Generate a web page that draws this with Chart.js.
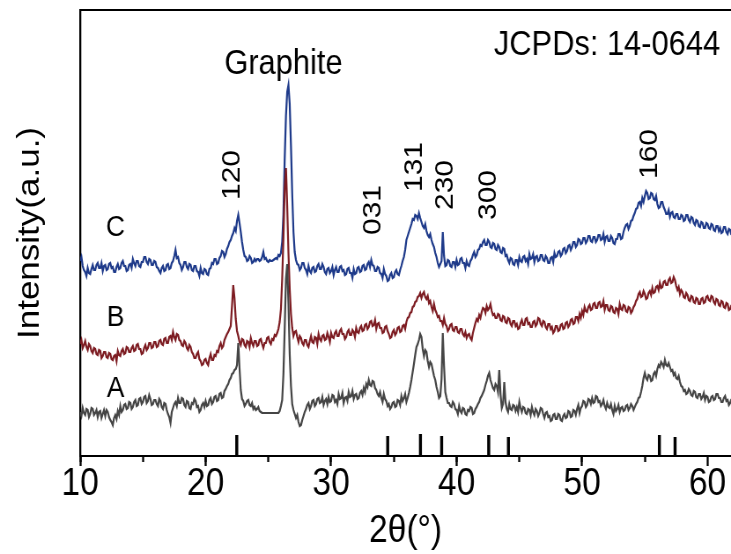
<!DOCTYPE html>
<html>
<head>
<meta charset="utf-8">
<script src="https://cdn.jsdelivr.net/npm/chart.js@4.4.1/dist/chart.umd.min.js"></script>
<style>
  html, body { margin: 0; padding: 0; overflow: hidden; background: #fff; }
  /* the original figure is squeezed sideways, so the chart is drawn wider and scaled down in x */
  #wrap { width: 830px; height: 554px; transform: scaleX(0.88072); transform-origin: 0 0; }
</style>
</head>
<body>
<div id="wrap"><canvas id="xrd" width="830" height="554"></canvas></div>
<script>
// 2theta grid: 10 to 62 deg, 0.1 deg steps
const thetaStart = 10;
const thetaStep = 0.1;

// sample A (bottom, grey), one row per degree
const seriesA = [
  52,48,56,51,49,55,54,47,50,56,
  55,49,51,54,47,52,53,46,50,54,
  48,54,52,47,44,42,39,46,49,45,
  53,49,58,52,54,59,60,55,56,62,
  61,55,57,62,64,58,59,65,66,60,
  62,67,68,61,63,69,65,59,60,64,
  64,60,58,65,63,57,55,61,60,54,
  50,47,41,52,56,60,62,58,66,61,
  61,66,65,59,57,63,62,56,55,61,
  60,65,63,57,58,52,54,59,61,57,
  63,58,59,64,66,60,62,67,68,63,
  64,70,71,66,67,73,75,78,80,84,
  86,90,91,94,95,99,121,96,74,65,
  63,58,60,63,64,59,58,61,55,57,
  54,55,57,53,52,51,51,51,51,51,
  51,51,51,51,51,51,51,51,51,53,
  58,64,90,135,185,200,160,110,78,60,
  54,50,46,49,42,38,39,44,48,52,
  55,59,61,55,58,63,64,58,60,65,
  66,61,62,67,59,63,65,60,67,62,
  63,69,68,62,64,60,70,65,66,71,
  61,66,67,63,72,67,68,73,65,69,
  70,65,66,71,73,69,76,72,80,77,
  84,79,78,83,82,76,74,70,68,72,
  66,62,70,65,63,58,60,55,57,61,
  62,57,58,64,63,59,68,63,66,70,
  62,66,71,77,84,92,100,109,117,120,
  124,130,127,115,108,114,112,103,97,102,
  100,94,88,84,77,72,66,68,85,131,
  98,72,66,61,61,58,57,62,60,55,
  54,50,58,53,51,56,55,50,49,54,
  53,57,56,50,51,55,57,60,62,66,
  68,71,74,79,83,88,91,84,80,76,
  74,80,78,72,94,70,56,60,82,62,
  55,52,60,55,54,59,58,53,57,52,
  62,56,52,57,56,51,50,55,54,49,
  57,52,49,55,53,48,51,56,55,50,
  46,51,52,47,48,43,44,49,50,45,
  45,50,49,44,43,48,50,46,47,53,
  52,47,48,54,53,49,55,59,51,56,
  58,63,62,57,59,65,64,60,66,61,
  62,68,67,62,63,58,60,64,58,55,
  61,57,56,60,54,50,58,53,55,59,
  52,56,57,53,54,58,59,54,56,60,
  58,54,57,60,62,66,67,72,78,86,
  91,86,84,89,88,83,84,90,92,88,
  95,99,97,102,100,97,104,99,98,101,
  97,93,94,89,91,86,85,88,82,78,
  77,73,74,70,71,75,73,69,68,73,
  72,67,66,70,70,65,67,71,64,68,
  67,62,63,67,68,64,65,70,70,66,
  66,62,62,66,68,63,64,59,61,65,
  63
];

// sample B (middle, dark red)
const seriesB = [
  120,124,116,119,123,117,114,120,118,113,
  111,116,115,110,109,114,113,106,108,112,
  112,107,106,111,110,105,104,108,109,103,
  113,109,108,113,115,110,111,117,116,112,
  112,116,118,113,114,119,120,115,115,110,
  111,116,119,114,116,121,121,116,117,122,
  122,117,118,123,124,120,119,125,126,121,
  121,127,128,124,132,127,124,130,129,124,
  123,119,118,123,121,116,114,119,117,112,
  110,106,106,110,112,105,103,99,100,104,
  105,101,99,106,110,104,104,109,108,113,
  112,118,121,116,118,124,127,130,132,135,
  138,158,179,166,145,133,128,122,119,125,
  124,119,117,123,122,117,126,121,118,123,
  123,118,119,124,125,120,116,121,121,126,
  127,122,120,125,124,129,128,131,135,142,
  155,185,227,275,296,258,211,175,150,136,
  128,132,133,127,122,128,126,121,119,124,
  124,119,117,123,128,122,121,127,126,120,
  130,125,123,128,129,124,125,131,127,122,
  131,127,126,131,133,128,128,133,135,130,
  130,125,127,132,134,129,129,134,132,127,
  136,132,131,136,138,133,134,139,140,135,
  137,142,143,138,139,144,135,140,141,136,
  136,131,132,137,138,133,130,126,127,132,
  134,129,131,136,137,132,133,138,139,135,
  142,146,147,151,152,157,158,162,163,167,
  168,171,166,170,172,167,165,168,161,163,
  157,153,160,154,151,147,148,143,143,139,
  146,140,138,133,135,139,140,134,133,137,
  137,132,131,135,135,130,128,132,126,129,
  130,126,124,131,136,141,145,143,149,146,
  152,156,155,151,158,154,156,160,153,149,
  150,146,146,150,149,144,143,148,147,142,
  141,146,145,140,138,143,143,138,140,135,
  136,141,144,139,139,145,146,140,141,137,
  137,142,143,138,140,146,145,140,138,143,
  142,137,135,140,140,135,137,131,133,138,
  138,133,134,139,140,135,136,141,142,137,
  139,144,145,140,141,147,147,143,150,146,
  153,149,157,153,152,157,159,154,155,160,
  161,156,156,161,162,157,158,163,154,159,
  159,154,153,158,157,152,151,156,155,150,
  160,155,154,159,158,153,152,157,156,151,
  153,157,159,163,165,170,172,167,168,173,
  170,165,166,171,173,169,176,171,172,177,
  178,174,181,176,177,182,183,179,179,184,
  186,181,182,187,184,178,174,177,170,174,
  172,167,166,171,169,164,163,168,167,162,
  161,166,165,160,160,165,166,161,162,167,
  168,164,163,168,167,162,160,165,164,159,
  158,163,162,157,156,161,160,154,155,159,
  157
];

// sample C (top, navy)
const seriesC = [
  203,207,198,194,192,188,196,191,190,195,
  199,194,194,199,201,196,196,201,193,198,
  199,194,195,200,201,196,197,192,192,197,
  200,195,196,201,203,198,198,193,194,199,
  200,196,205,201,198,203,203,198,197,202,
  202,207,207,202,200,205,204,199,199,203,
  202,197,196,193,191,196,198,193,194,199,
  200,195,196,201,203,208,214,206,207,201,
  199,194,197,202,202,197,195,200,199,194,
  193,198,198,193,192,188,196,191,190,195,
  194,190,189,195,196,201,200,205,205,200,
  201,206,208,213,212,207,210,215,218,222,
  224,228,231,236,233,243,249,241,232,222,
  214,208,207,203,204,208,206,201,202,205,
  203,205,205,203,204,207,212,205,206,203,
  202,204,203,203,204,205,206,205,209,208,
  211,222,250,305,348,372,379,360,318,270,
  232,212,204,200,199,194,196,201,201,196,
  194,190,198,193,191,196,197,192,193,198,
  200,195,195,200,197,192,190,195,196,191,
  193,197,189,194,197,192,192,197,198,193,
  194,189,190,195,196,191,191,186,195,190,
  191,196,197,192,193,198,199,194,195,200,
  202,197,204,199,198,193,193,197,196,191,
  190,186,195,190,188,183,184,189,191,186,
  187,192,194,190,189,194,198,203,207,214,
  224,228,232,236,240,245,244,249,248,245,
  251,246,242,238,236,240,233,229,227,230,
  224,220,217,211,207,201,197,200,203,232,
  208,198,199,204,203,198,197,202,202,197,
  204,199,200,205,206,201,201,196,203,199,
  198,203,205,209,212,207,209,214,215,219,
  218,222,224,219,219,224,222,217,216,221,
  220,215,214,219,217,212,211,216,215,208,
  209,204,201,206,205,200,199,204,204,199,
  207,203,202,207,208,203,205,200,210,205,
  206,210,202,207,208,203,204,209,209,204,
  203,208,206,201,201,206,207,202,211,207,
  208,212,213,208,210,215,216,211,213,218,
  219,214,217,222,222,217,219,225,224,220,
  221,226,226,221,223,228,228,223,222,227,
  227,222,224,229,229,224,225,230,222,227,
  228,223,223,228,226,221,220,225,225,230,
  230,225,226,232,236,239,240,235,238,243,
  244,248,251,255,256,261,262,258,266,262,
  268,273,271,265,266,271,270,265,264,268,
  260,256,257,262,262,257,254,250,250,254,
  247,251,252,247,246,250,250,245,245,249,
  248,243,244,249,249,244,242,247,246,241,
  239,244,243,238,237,242,241,236,236,241,
  240,236,235,240,239,234,233,238,238,233,
  236,231,232,237,237,232,230,235,234,229,
  228
];

// JCPDS 14-0644 reference lines
const refPositions = [22.48, 34.51, 37.12, 38.81, 42.56, 44.13, 56.16, 57.41];
const refHeights = [21, 20, 22, 20, 21, 19, 21, 19];

const xTicks = [10, 20, 30, 40, 50, 60];

const yMin = 8, yMax = 454;
const xMin = 10, xMax = 61.87;

const sans = '"Liberation Sans", Arial, sans-serif';

function toPoints(values) {
  return values.map((v, i) => ({ x: thetaStart + i * thetaStep, y: v }));
}

const refPoints = [];
refPositions.forEach((p, i) => {
  refPoints.push({ x: p, y: yMin });
  refPoints.push({ x: p, y: yMin + refHeights[i] });
  refPoints.push({ x: p, y: null });
});

// labels placed in data coordinates
const notes = [
  { text: 'Graphite', x: 26.2, y: 390, rot: 0, size: 35, align: 'center', base: 'alphabetic' },
  { text: 'JCPDs: 14-0644', x: 61.0, y: 409, rot: 0, size: 35, align: 'right', base: 'alphabetic' },
  { text: '120', x: 22.15, y: 289, rot: -Math.PI / 2, size: 30, align: 'center', base: 'middle' },
  { text: '031', x: 33.37, y: 254, rot: -Math.PI / 2, size: 30, align: 'center', base: 'middle' },
  { text: '131', x: 36.64, y: 297, rot: -Math.PI / 2, size: 30, align: 'center', base: 'middle' },
  { text: '230', x: 39.11, y: 279, rot: -Math.PI / 2, size: 30, align: 'center', base: 'middle' },
  { text: '300', x: 42.54, y: 269, rot: -Math.PI / 2, size: 30, align: 'center', base: 'middle' },
  { text: '160', x: 55.37, y: 310, rot: -Math.PI / 2, size: 30, align: 'center', base: 'middle' },
  { text: 'C', x: 12.82, y: 236, rot: 0, size: 30, align: 'center', base: 'middle' },
  { text: 'B', x: 12.82, y: 146, rot: 0, size: 30, align: 'center', base: 'middle' },
  { text: 'A', x: 12.82, y: 75, rot: 0, size: 30, align: 'center', base: 'middle' }
];

const notePlugin = {
  id: 'notes',
  afterDatasetsDraw(chart) {
    const ctx = chart.ctx;
    const xs = chart.scales.x, ys = chart.scales.y;
    notes.forEach(n => {
      ctx.save();
      ctx.translate(xs.getPixelForValue(n.x), ys.getPixelForValue(n.y));
      ctx.rotate(n.rot);
      ctx.font = n.size + 'px ' + sans;
      ctx.fillStyle = '#000';
      ctx.textAlign = n.align;
      ctx.textBaseline = n.base;
      ctx.fillText(n.text, 0, 0);
      ctx.restore();
    });
  }
};

const lineStyle = { borderWidth: 2.2, pointRadius: 0, tension: 0, fill: false };

new Chart(document.getElementById('xrd'), {
  type: 'line',
  data: {
    datasets: [
      { label: 'A', data: toPoints(seriesA), borderColor: '#454545', ...lineStyle },
      { label: 'B', data: toPoints(seriesB), borderColor: '#7d1c22', ...lineStyle },
      { label: 'C', data: toPoints(seriesC), borderColor: '#1e3a8a', ...lineStyle },
      { label: 'JCPDS', data: refPoints, borderColor: '#000', borderWidth: 3.4, pointRadius: 0, spanGaps: false }
    ]
  },
  options: {
    responsive: false,
    animation: false,
    layout: { padding: { top: 10, right: 0, bottom: 0, left: 0 } },
    plugins: { legend: { display: false }, tooltip: { enabled: false } },
    scales: {
      x: {
        type: 'linear', position: 'bottom', min: xMin, max: xMax,
        afterBuildTicks: s => { s.ticks = xTicks.map(v => ({ value: v })); },
        afterFit: s => { s.height = 98; },
        border: { display: true, color: '#000', width: 2 },
        grid: { drawOnChartArea: false, drawTicks: true, tickLength: 10, tickWidth: 2.3, tickColor: '#000' },
        ticks: { color: '#000', padding: 0, maxRotation: 0, font: { family: sans, size: 38, lineHeight: 1 } },
        title: { display: true, text: '2θ(°)', color: '#000', padding: { top: 0, bottom: 0 }, font: { family: sans, size: 38 } }
      },
      xMinor: {
        type: 'linear', position: { y: yMin }, min: xMin, max: xMax,
        afterBuildTicks: s => { s.ticks = s.ticks.filter(t => t.value % 5 === 0); },
        border: { display: false },
        grid: { drawOnChartArea: false, drawTicks: true, tickLength: 6, tickWidth: 2.3, tickColor: '#000' },
        ticks: { display: false, stepSize: 5 }
      },
      xTop: {
        type: 'linear', position: 'top', min: xMin, max: xMax,
        afterFit: s => { s.height = 0; },
        border: { display: true, color: '#000', width: 2 },
        grid: { display: false },
        ticks: { display: false }
      },
      y: {
        type: 'linear', min: yMin, max: yMax,
        afterFit: s => { s.width = 91; },
        border: { display: true, color: '#000', width: 2.3 },
        grid: { display: false },
        ticks: { display: false },
        title: { display: true, text: 'Intensity(a.u.)', color: '#000', padding: { top: 13, bottom: 0 }, font: { family: sans, size: 35 } }
      }
    }
  },
  plugins: [notePlugin]
});
</script>
</body>
</html>
